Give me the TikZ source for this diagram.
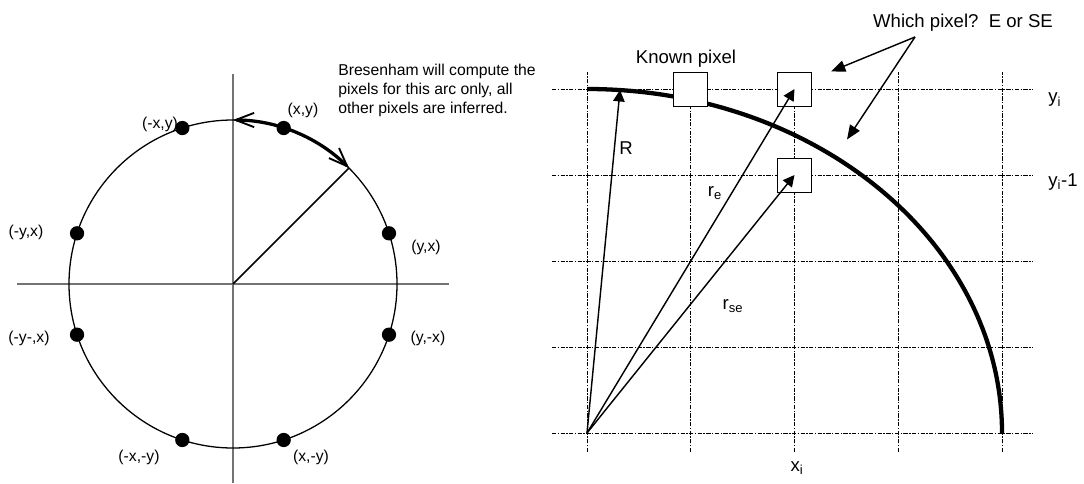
\documentclass[tikz,border=0pt]{standalone}
\usepackage{fontspec}
\setmainfont{Liberation Sans}
\usepackage{tikz}
\usetikzlibrary{arrows.meta, positioning, calc}
\tikzset{
  caxis/.style={draw=black!55, line width=0.9pt},
  cring/.style={line width=0.9pt},
  cdot/.style={circle, fill=black, inner sep=0pt, minimum size=10pt},
  clbl/.style={font=\fontsize{11}{13.3}\selectfont, inner sep=0pt},
  cspan/.style={{Straight Barb[length=13pt, width=10pt, line width=1.3pt]}-{Straight Barb[length=13pt, width=10pt, line width=1.3pt]}, line width=2.3pt},
  ggrid/.style={line width=0.7pt, dash pattern=on 3pt off 1pt on 1pt off 1pt},
  garc/.style={line width=3pt},
  gpix/.style={draw, fill=white, line width=0.7pt, minimum size=23.8pt, inner sep=0pt},
  gflow/.style={-{Triangle[length=8pt, width=8pt]}, line width=1pt},
  gwhich/.style={-{Triangle[length=10pt, width=8pt]}, line width=1pt},
  glbl/.style={font=\fontsize{13}{15}\selectfont, inner sep=0pt},
}
\begin{document}
\begin{tikzpicture}[x=0.7pt, y=0.7pt]
  \useasboundingbox (0,0) rectangle (1084,483);
  \coordinate (C) at (233,199);
  \coordinate (axl) at (17,199);
  \coordinate (axr) at (449,199);
  \coordinate (axt) at (233,409);
  \coordinate (axb) at (233,0);
  \draw[caxis] (axl) -- (axr);
  \draw[caxis] (axt) -- (axb);
  \draw[cring] (C) circle[radius=164];
  \coordinate (c45) at ([shift={(45:164)}]C);
  \draw[line width=1pt] (C) -- (c45);
  \draw[cspan] (c45) arc[start angle=45, end angle=90, radius=164];
  \foreach \a/\n in {18/dyx, 72/dxy, 108/dmxy, 162/dmyx, 198/dmymx, 252/dmxmy, 288/dxmy, 342/dymx}
    \node[cdot] (\n) at ([shift={(\a:164)}]C) {};
  \node[clbl] (lxy) at (303,373) {(x,y)};
  \node[clbl] (lmxy) at (160,359) {(-x,y)};
  \node[clbl] (lmyx) at (26,251) {(-y,x)};
  \node[clbl] (lyx) at (426,235.5) {(y,x)};
  \node[clbl] (lmymx) at (29,145) {(-y-,x)};
  \node[clbl] (lymx) at (428,145) {(y,-x)};
  \node[clbl] (lmxmy) at (139,25.5) {(-x,-y)};
  \node[clbl] (lxmy) at (311,25.5) {(x,-y)};
  \node[clbl, align=left, anchor=base west] (note) at (338,370) {Bresenham will compute the\\pixels for this arc only, all\\other pixels are inferred.};

  \coordinate (O) at (587,50);
  \foreach \i in {0,...,4}
    \draw[ggrid] ($(O)+(\i*103.75,-19)$) -- ++(0,380);
  \foreach \j in {0,...,4}
    \draw[ggrid] ($(O)+(-35,\j*86)$) -- ++(481,0);
  \draw[garc] ($(O)+(0,344)$) arc[start angle=90, end angle=0, x radius=415, y radius=344];
  \node[gpix] (known) at ($(O)+(103.75,344)$) {};
  \node[gpix] (pe) at ($(O)+(207.5,344)$) {};
  \node[gpix] (pse) at ($(O)+(207.5,258)$) {};
  \coordinate (rtip) at (620,393);
  \draw[gflow] (O) -- (rtip);
  \draw[gflow] (O) -- (pe.center);
  \draw[gflow] (O) -- (pse.center);
  \node[glbl] (lR) at (626,335) {R};
  \node[glbl] (lre) at (715,290) {r\textsubscript{e}};
  \node[glbl] (lrse) at (733,177) {r\textsubscript{se}};
  \node[glbl] (lknown) at (686,424) {Known pixel};
  \node[glbl] (which) at (963,460) {Which pixel?\ \ E or SE};
  \coordinate (fork) at (915,446);
  \coordinate (wtipe) at (831,411.5);
  \coordinate (wtipse) at (847,343.5);
  \draw[gwhich] (fork) -- (wtipe);
  \draw[gwhich] (fork) -- (wtipse);
  \node[glbl, anchor=west] (lyi) at (1048,383) {y\textsubscript{i}};
  \node[glbl, anchor=west] (lyim) at (1048,301) {y\textsubscript{i}-1};
  \node[glbl] (lxi) at (797,15) {x\textsubscript{i}};
\end{tikzpicture}
\end{document}
